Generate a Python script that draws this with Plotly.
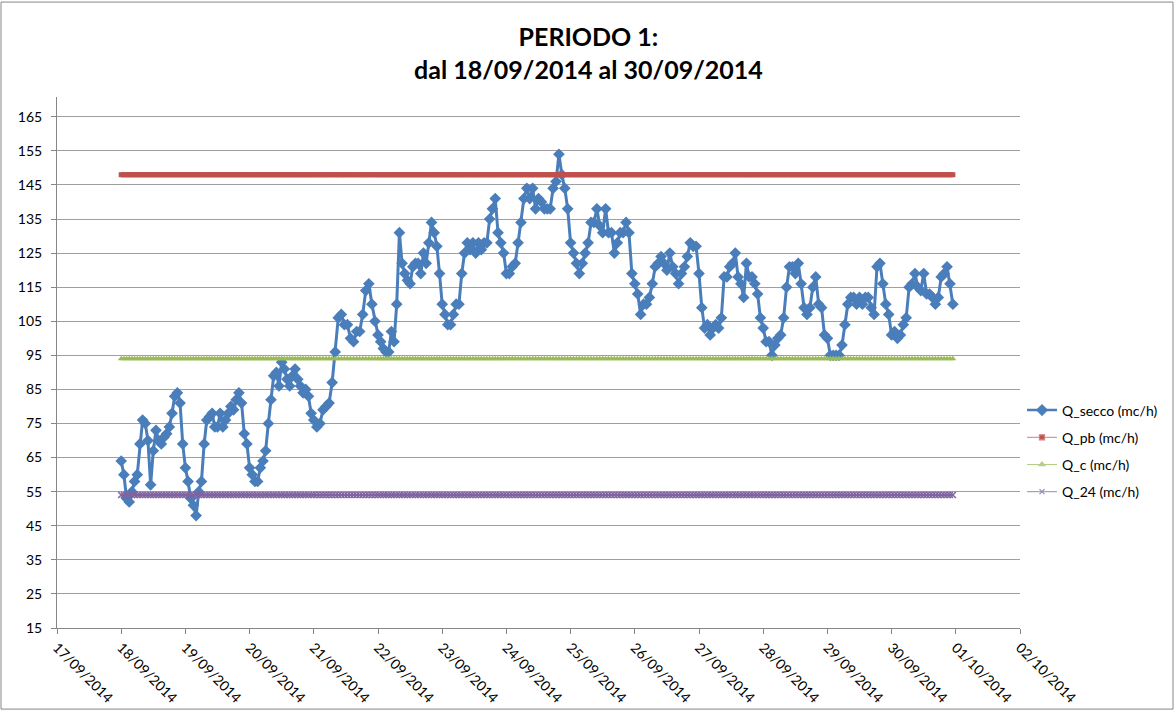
import pandas as pd
import plotly.graph_objects as go

# ---- data ----
day_starts = ["2014-09-18", "2014-09-19", "2014-09-20", "2014-09-21", "2014-09-22",
              "2014-09-23", "2014-09-24", "2014-09-25", "2014-09-26", "2014-09-27",
              "2014-09-28", "2014-09-29", "2014-09-30"]

q18 = [64, 60, 53, 52, 55, 58, 60, 69, 76, 75, 70, 57, 67, 73, 70, 69, 71, 72, 74, 78, 83, 84, 81, 69]
q19 = [62, 58, 53, 51, 48, 55, 58, 69, 76, 77, 78, 74, 74, 78, 74, 76, 78, 80, 79, 82, 84, 81, 72, 69]
q20 = [62, 60, 58, 58, 62, 64, 67, 75, 82, 89, 90, 86, 93, 91, 88, 86, 89, 91, 88, 86, 84, 85, 83, 78]
q21 = [76, 74, 75, 79, 80, 81, 87, 96, 106, 107, 104, 104, 100, 99, 102, 102, 107, 114, 116, 110, 105]
q22 = [101, 99, 97, 96, 96, 102, 99, 110, 131, 122, 119, 117, 116, 121, 122, 122, 119, 125, 122, 128, 134, 131, 127, 119]
q23 = [110, 107, 104, 104, 107, 110, 110, 119, 125, 128, 126, 128, 125, 128, 126, 128, 128, 135, 138, 141, 131, 128, 125]
q24 = [119, 119, 121, 122, 128, 134, 141, 144, 141, 144, 138, 141, 140, 138, 138, 138, 144, 146, 154, 148, 144, 138]
q25 = [128, 125, 122, 119, 122, 125, 128, 134, 134, 138, 133, 131, 138, 131, 131, 125, 128, 131, 131, 134, 131, 119]
q26 = [116, 113, 107, 110, 110, 112, 116, 121, 122, 124, 122, 120, 125, 121, 119, 116, 119, 121, 124, 128, 127, 127]
q27 = [119, 109, 103, 104, 101, 103, 104, 103, 106, 118, 118, 121, 122, 125, 118, 116, 112, 122, 118, 118, 116, 113, 106]
q28 = [103, 99, 99, 95, 98, 100, 101, 106, 115, 121, 121, 119, 122, 116, 109, 107, 109, 115, 118, 110, 109, 101]
q29 = [100, 95, 95, 95, 95, 98, 104, 110, 112, 112, 110, 112, 110, 112, 112, 109, 107, 121, 122, 116, 110, 107]
q30 = [101, 102, 100, 101, 104, 106, 115, 116, 119, 115, 114, 119, 113, 113, 112, 110, 112, 118, 119, 121, 116, 110]

q_pb = 148
q_c = 94
q_24 = 54

x_ticks = pd.date_range("2014-09-17", "2014-10-02", freq="D")
x_ticklabels = [d.strftime("%d/%m/%Y") for d in x_ticks]

series_names = ["Q_secco (mc/h)", "Q_pb (mc/h)", "Q_c (mc/h)", "Q_24 (mc/h)"]
title_text = "<b>PERIODO 1:<br>dal 18/09/2014 al 30/09/2014</b>"

# ---- build series ----
days = [q18, q19, q20, q21, q22, q23, q24, q25, q26, q27, q28, q29, q30]
times, q_secco = [], []
for start, vals in zip(day_starts, days):
    t0 = pd.Timestamp(start)
    n = len(vals)
    for k, v in enumerate(vals):
        times.append(t0 + pd.Timedelta(days=k / n))
        q_secco.append(v)

blue = "#4A7EBB"
red = "#C0504D"
green = "#9BBB59"
purple = "#8064A2"

fig = go.Figure()
fig.add_trace(go.Scatter(x=times, y=q_secco, name=series_names[0], mode="lines+markers",
                         line=dict(color=blue, width=3),
                         marker=dict(symbol="diamond", size=9, color=blue),
                         showlegend=False))
fig.add_trace(go.Scatter(x=times, y=[q_pb] * len(times), name=series_names[1], mode="lines+markers",
                         line=dict(color=red, width=5),
                         marker=dict(symbol="square", size=5, color=red),
                         showlegend=False))
fig.add_trace(go.Scatter(x=times, y=[q_c] * len(times), name=series_names[2], mode="lines+markers",
                         line=dict(color=green, width=2),
                         marker=dict(symbol="triangle-up", size=6, color=green),
                         showlegend=False))
fig.add_trace(go.Scatter(x=times, y=[q_24] * len(times), name=series_names[3], mode="lines+markers",
                         line=dict(color=purple, width=2),
                         marker=dict(symbol="x-thin", size=6, color=purple,
                                     line=dict(color=purple, width=1.5)),
                         showlegend=False))

# legend entries (thin Excel-style swatches)
leg_styles = [
    (blue, 2.5, "diamond", 8),
    ("#D47F7C", 1, "square", 5),
    ("#B5CE85", 1, "triangle-up", 5),
    ("#9B87BA", 1, "x-thin", 5),
]
for i, (nm, (c, lw, sym, ms)) in enumerate(zip(series_names, leg_styles)):
    fig.add_trace(go.Scatter(x=[None], y=[None], name=nm, mode="lines+markers",
                             line=dict(color=c, width=lw),
                             marker=dict(symbol=sym, size=ms, color=c if sym != "square" else red,
                                         line=dict(color=c, width=1.2)),
                             legendgroup=str(i), showlegend=True))

W, H = 1175, 718
L, R, T, B = 57, 155, 97, 84
pw, ph = W - L - R, H - T - B

fig.update_layout(
    width=W, height=H,
    margin=dict(l=L, r=R, t=T, b=B),
    paper_bgcolor="white", plot_bgcolor="white",
    font=dict(family="Lato, Open Sans, sans-serif", size=14, color="black"),
    showlegend=True,
    legend=dict(x=(1022 - L) / pw, xanchor="left", y=(634 - 455) / ph, yanchor="middle",
                font=dict(size=14), tracegroupgap=6,
                bgcolor="rgba(0,0,0,0)"),
    xaxis=dict(type="date", range=[x_ticks[0], x_ticks[-1]],
               tickmode="array", tickvals=x_ticks, ticktext=x_ticklabels,
               tickangle=45, ticks="outside", ticklen=5, tickcolor="#868686",
               showline=True, linecolor="#868686", linewidth=1,
               showgrid=False, zeroline=False,
               tickfont=dict(size=14)),
    yaxis=dict(range=[15, 170.8], tickmode="linear", tick0=15, dtick=10,
               ticks="outside", ticklen=5, tickcolor="#868686",
               showline=True, linecolor="#868686", linewidth=1,
               showgrid=True, gridcolor="#9F9F9F", gridwidth=1,
               zeroline=False, tickfont=dict(size=14), ticklabelstandoff=6),
)

fig.add_annotation(text=title_text, xref="paper", yref="paper",
                   x=(588 - L) / pw, xanchor="center",
                   y=(634 - 18) / ph, yanchor="top", showarrow=False,
                   font=dict(size=25, family="Lato, sans-serif", color="black"))

# chart-area border
fig.add_shape(type="rect", xref="paper", yref="paper",
              x0=(1 - L) / pw, x1=(W - 2 - L) / pw,
              y0=(634 - (H - 2)) / ph, y1=(634 - 1) / ph,
              line=dict(color="#868686", width=1), fillcolor="rgba(0,0,0,0)", layer="below")

fig.write_html("out.html", config={"displayModeBar": False},
               post_script="document.body.style.margin='0';document.body.style.padding='0';")
